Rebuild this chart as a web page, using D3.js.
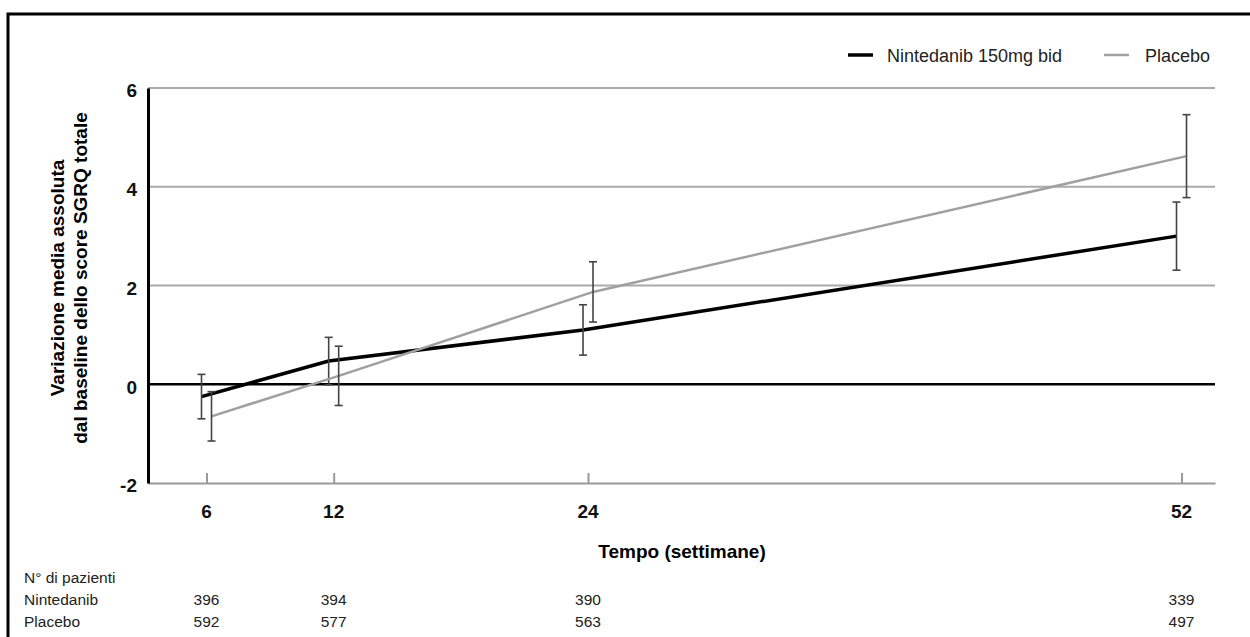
<!DOCTYPE html>
<html>
<head>
<meta charset="utf-8">
<script src="https://cdn.jsdelivr.net/npm/d3@7"></script>
<style>
  body { margin: 0; background: #fff; }
  svg { display: block; font-family: "Liberation Sans", Arial, sans-serif; }
</style>
</head>
<body>
<div class="chart_wrapper"></div>
<script>
// weeks on the x axis
const weeks = [6, 12, 24, 52]

// mean change from baseline and half-width of the error bar
const nintedanibMean = [-0.25, 0.47, 1.1, 3.0]
const nintedanibErr = [0.45, 0.48, 0.51, 0.69]
const placeboMean = [-0.65, 0.17, 1.87, 4.62]
const placeboErr = [0.5, 0.6, 0.61, 0.84]

// number of patients table
const nintedanibN = [396, 394, 390, 339]
const placeboN = [592, 577, 563, 497]

const yTicks = [-2, 0, 2, 4, 6]
const gridTicks = [2, 4, 6]

const dimensions = {
  width: 1250,
  height: 637,
  margin: { top: 88, right: 35, bottom: 154, left: 148 },
}
dimensions.boundedWidth = dimensions.width - dimensions.margin.left - dimensions.margin.right
dimensions.boundedHeight = dimensions.height - dimensions.margin.top - dimensions.margin.bottom

const wrapper = d3.select(".chart_wrapper")
  .append("svg")
  .attr("width", dimensions.width)
  .attr("height", dimensions.height)

// outer frame (only top and left edges are visible)
wrapper.append("rect")
  .attr("x", 8).attr("y", 14)
  .attr("width", 1400).attr("height", 800)
  .attr("fill", "none")
  .attr("stroke", "#000")
  .attr("stroke-width", 3)

const bounds = wrapper.append("g")
  .attr("transform", `translate(${dimensions.margin.left},${dimensions.margin.top})`)

const xScale = d3.scaleLinear()
  .domain([3.24, 53.58])
  .range([0, dimensions.boundedWidth])

const yScale = d3.scaleLinear()
  .domain([-2, 6])
  .range([dimensions.boundedHeight, 0])

// gridlines
bounds.selectAll(".grid")
  .data(gridTicks)
  .enter().append("line")
  .attr("x1", 0).attr("x2", dimensions.boundedWidth)
  .attr("y1", d => yScale(d)).attr("y2", d => yScale(d))
  .attr("stroke", "#aaa")
  .attr("stroke-width", 2)

// x axis baseline + ticks (grey)
const xAxis = d3.axisBottom(xScale)
  .tickValues(weeks)
  .tickSize(-10)
  .tickSizeOuter(0)
  .tickFormat("")

const xAxisGroup = bounds.append("g")
  .attr("transform", `translate(0,${dimensions.boundedHeight})`)
  .call(xAxis)
xAxisGroup.select(".domain").attr("stroke", "#999").attr("stroke-width", 2)
xAxisGroup.selectAll(".tick line").attr("stroke", "#999").attr("stroke-width", 2)

bounds.append("g").selectAll("text")
  .data(weeks)
  .enter().append("text")
  .attr("x", d => xScale(d))
  .attr("y", dimensions.boundedHeight + 35)
  .attr("text-anchor", "middle")
  .style("font-size", "19px")
  .style("font-weight", "bold")
  .style("fill", "#111")
  .text(d => d)

// zero line
bounds.append("line")
  .attr("x1", 0).attr("x2", dimensions.boundedWidth)
  .attr("y1", yScale(0)).attr("y2", yScale(0))
  .attr("stroke", "#000")
  .attr("stroke-width", 2.5)

// y axis
const yAxis = d3.axisLeft(yScale)
  .tickValues(yTicks)
  .tickSize(0)
  .tickPadding(11)
  .tickFormat(d => String(d))

const yAxisGroup = bounds.append("g").call(yAxis)
yAxisGroup.select(".domain").attr("stroke", "#000").attr("stroke-width", 3)
yAxisGroup.selectAll(".tick text")
  .attr("dy", "0.68em")
  .attr("y", -4)
  .style("font-size", "19px")
  .style("font-weight", "bold")
  .style("fill", "#111")

// y axis title
const yTitle = wrapper.append("text")
  .attr("transform", "translate(57,278) rotate(-90)")
  .attr("text-anchor", "middle")
  .style("font-size", "19px")
  .style("font-weight", "bold")
yTitle.append("tspan").attr("x", 0).attr("dy", "0.35em").text("Variazione media assoluta")
yTitle.append("tspan").attr("x", 0).attr("dy", 23).text("dal baseline dello score SGRQ totale")

// x axis title
wrapper.append("text")
  .attr("x", 682)
  .attr("y", 558)
  .attr("text-anchor", "middle")
  .style("font-size", "19px")
  .style("font-weight", "bold")
  .text("Tempo (settimane)")

// series
const series = [
  { name: "Nintedanib 150mg bid", mean: nintedanibMean, err: nintedanibErr, color: "#000", width: 3.5, offset: -5 },
  { name: "Placebo", mean: placeboMean, err: placeboErr, color: "#a0a0a0", width: 2.5, offset: 5 },
]

const line = d3.line()
  .x(d => xScale(d.week) + d.offset)
  .y(d => yScale(d.mean))

series.forEach(s => {
  const pts = weeks.map((w, i) => ({ week: w, mean: s.mean[i], err: s.err[i], offset: s.offset }))

  bounds.append("path")
    .datum(pts)
    .attr("d", line)
    .attr("fill", "none")
    .attr("stroke", s.color)
    .attr("stroke-width", s.width)

  const bars = bounds.append("g").selectAll("g")
    .data(pts)
    .enter().append("g")
    .attr("stroke", "#444")
    .attr("stroke-width", 1.6)

  bars.append("line")
    .attr("x1", d => xScale(d.week) + d.offset).attr("x2", d => xScale(d.week) + d.offset)
    .attr("y1", d => yScale(d.mean + d.err)).attr("y2", d => yScale(d.mean - d.err))
  bars.append("line")
    .attr("x1", d => xScale(d.week) + d.offset - 4).attr("x2", d => xScale(d.week) + d.offset + 4)
    .attr("y1", d => yScale(d.mean + d.err)).attr("y2", d => yScale(d.mean + d.err))
  bars.append("line")
    .attr("x1", d => xScale(d.week) + d.offset - 4).attr("x2", d => xScale(d.week) + d.offset + 4)
    .attr("y1", d => yScale(d.mean - d.err)).attr("y2", d => yScale(d.mean - d.err))
})

// legend
const legendX = [848, 1104]
const legend = wrapper.selectAll(".legend")
  .data(series)
  .enter().append("g")
  .attr("transform", (d, i) => `translate(${legendX[i]},55)`)

legend.append("line")
  .attr("x1", 0).attr("x2", 25)
  .attr("stroke", d => d.color)
  .attr("stroke-width", d => d.width)
legend.append("text")
  .attr("x", (d, i) => i === 0 ? 39 : 41)
  .attr("y", 7)
  .style("font-size", "18px")
  .style("fill", "#222")
  .text(d => d.name)

// patients table
const table = wrapper.append("g").style("font-size", "15.5px").style("fill", "#222")
table.append("text").attr("x", 24).attr("y", 583).text("N° di pazienti")
table.append("text").attr("x", 24).attr("y", 605).text("Nintedanib")
table.append("text").attr("x", 24).attr("y", 627).text("Placebo")

const rows = [nintedanibN, placeboN]
rows.forEach((row, r) => {
  table.selectAll(".n" + r)
    .data(row)
    .enter().append("text")
    .attr("x", (d, i) => dimensions.margin.left + xScale(weeks[i]))
    .attr("y", 605 + r * 22)
    .attr("text-anchor", "middle")
    .text(d => d)
})
</script>
</body>
</html>
